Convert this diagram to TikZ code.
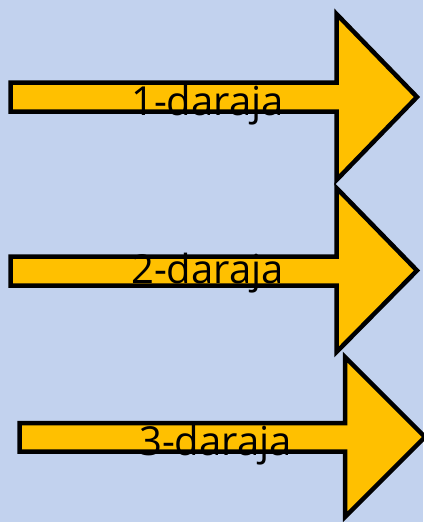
\documentclass[tikz,border=0pt]{standalone}
\usepackage{fontspec}
\setmainfont{Open Sans}
\definecolor{bgblue}{HTML}{C2D2EE}
\definecolor{arrowyellow}{HTML}{FFC000}
\begin{document}
\begin{tikzpicture}[x=1pt,y=-1pt,
  bigarrow/.style={draw=black,fill=arrowyellow,line width=4.5pt,line join=miter},
  lbl/.style={anchor=base,inner sep=0pt,font=\fontsize{40}{40}\selectfont}]
\fill[bgblue] (0,0) rectangle (423,522);
\useasboundingbox (0,0) rectangle (423,522);
% arrow 1
\draw[bigarrow] (10.5,82.5) -- (336.5,82.5) -- (336.5,14) -- (417,97) -- (336.5,180) -- (336.5,111.5) -- (10.5,111.5) -- cycle;
% arrow 2
\draw[bigarrow] (10.5,256.5) -- (336.5,256.5) -- (336.5,188) -- (417,270.5) -- (336.5,352) -- (336.5,285.5) -- (10.5,285.5) -- cycle;
% arrow 3
\draw[bigarrow] (19.5,423) -- (345,423) -- (345,357) -- (425,437) -- (345,517) -- (345,451.5) -- (19.5,451.5) -- cycle;
\node[lbl] (l1) at (207.5,115) {1-daraja};
\node[lbl] (l2) at (207.5,283) {2-daraja};
\node[lbl] (l3) at (215.5,455) {3-daraja};
\end{tikzpicture}
\end{document}
